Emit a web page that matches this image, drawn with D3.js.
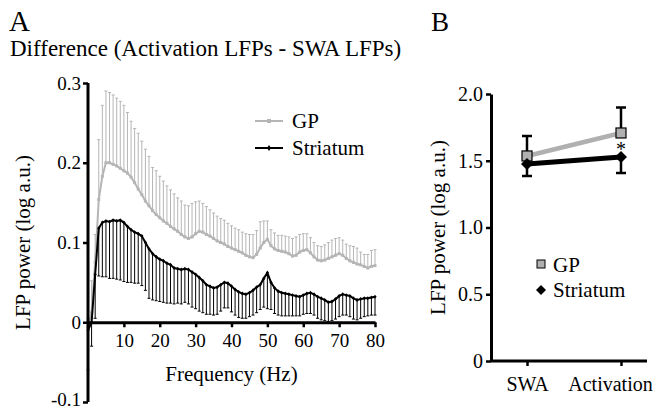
<!DOCTYPE html>
<html><head><meta charset="utf-8">
<script src="https://cdn.jsdelivr.net/npm/d3@7"></script>
<style>body{margin:0;background:#fff}svg{display:block}text{font-family:"Liberation Serif","Times New Roman",serif !important;fill:#000}</style>
</head><body><svg id="c" width="656" height="410"></svg>
<script>
// Panel A data (frequency 0..80 Hz, 1 Hz steps)
const freqs = d3.range(0, 81);
const gpMean = [-0.005,0.012,0.075,0.154,0.183,0.2,0.2,0.198,0.196,0.193,0.19,0.187,0.182,0.175,0.167,0.16,0.152,0.146,0.14,0.135,0.131,0.127,0.124,0.12,0.117,0.114,0.11,0.107,0.105,0.107,0.111,0.114,0.113,0.11,0.108,0.105,0.102,0.1,0.098,0.095,0.093,0.091,0.089,0.087,0.084,0.082,0.081,0.085,0.093,0.1,0.104,0.096,0.092,0.09,0.089,0.088,0.086,0.083,0.084,0.088,0.09,0.091,0.087,0.082,0.078,0.077,0.078,0.08,0.082,0.084,0.086,0.084,0.08,0.077,0.075,0.073,0.072,0.07,0.068,0.07,0.071];
const gpErr = [0.01,0.04,0.035,0.075,0.089,0.09,0.088,0.087,0.085,0.084,0.082,0.076,0.07,0.068,0.07,0.067,0.065,0.062,0.054,0.055,0.052,0.05,0.047,0.046,0.044,0.042,0.042,0.04,0.041,0.042,0.04,0.038,0.036,0.035,0.033,0.032,0.031,0.03,0.03,0.029,0.028,0.027,0.027,0.026,0.027,0.028,0.029,0.03,0.033,0.027,0.023,0.02,0.02,0.019,0.02,0.02,0.021,0.022,0.023,0.022,0.021,0.02,0.019,0.018,0.018,0.018,0.019,0.02,0.021,0.021,0.02,0.019,0.018,0.019,0.02,0.02,0.016,0.015,0.017,0.02,0.02];
const strMean = [-0.01,0.0,0.06,0.118,0.125,0.127,0.126,0.128,0.127,0.128,0.125,0.12,0.116,0.113,0.111,0.108,0.1,0.092,0.086,0.082,0.079,0.077,0.074,0.072,0.068,0.067,0.066,0.067,0.066,0.063,0.06,0.056,0.052,0.047,0.045,0.043,0.044,0.047,0.05,0.049,0.045,0.041,0.038,0.036,0.035,0.037,0.04,0.044,0.047,0.055,0.062,0.05,0.043,0.039,0.037,0.036,0.035,0.034,0.033,0.032,0.034,0.036,0.037,0.035,0.032,0.03,0.028,0.025,0.026,0.029,0.033,0.035,0.034,0.033,0.03,0.028,0.029,0.03,0.03,0.031,0.032];
const strErr = [0.05,0.03,0.055,0.06,0.068,0.07,0.071,0.073,0.073,0.075,0.074,0.07,0.066,0.064,0.062,0.062,0.06,0.062,0.058,0.055,0.053,0.052,0.05,0.048,0.045,0.043,0.043,0.042,0.043,0.044,0.043,0.042,0.04,0.037,0.035,0.034,0.034,0.033,0.032,0.031,0.032,0.032,0.032,0.031,0.03,0.03,0.031,0.032,0.031,0.036,0.045,0.034,0.032,0.03,0.029,0.028,0.027,0.026,0.025,0.024,0.024,0.025,0.026,0.026,0.027,0.027,0.026,0.024,0.024,0.025,0.026,0.026,0.025,0.026,0.026,0.025,0.024,0.023,0.022,0.022,0.023];
const xTicksA = [10,20,30,40,50,60,70,80];
const yTicksA = [-0.1,0,0.1,0.2,0.3];
const yTickLabelsA = ["-0.1","0","0.1","0.2","0.3"];

// Panel B data
const conditions = ["SWA","Activation"];
const gpB = [1.536,1.708];
const gpBErr = [0.15,0.19];
const strB = [1.476,1.528];
const strBErr = [0.09,0.12];
const yTicksB = [0,0.5,1.0,1.5,2.0];
const yTickLabelsB = ["0","0.5","1.0","1.5","2.0"];

const GRAY = "#b5b5b5";
const svg = d3.select("#c");

// ---------- Panel A ----------
const xA = d3.scaleLinear().domain([0,80]).range([88,375]);
const yA = d3.scaleLinear().domain([-0.1,0.3]).range([402,83]);

svg.append("text").attr("x",9).attr("y",31).attr("font-size",29).text("A");
svg.append("text").attr("x",10).attr("y",56).attr("font-size",23).text("Difference (Activation LFPs - SWA LFPs)");

const gA = svg.append("g");
const gpData = freqs.map((f,i)=>({f, m:gpMean[i], e:gpErr[i]}));
const stData = freqs.map((f,i)=>({f, m:strMean[i], e:strErr[i]}));

gA.selectAll(".gpe").data(gpData).join("path")
  .attr("d",d=>{const x=xA(d.f), y1=yA(d.m), y2=yA(d.m+d.e);return `M${x},${y1}V${y2}M${x-1.5},${y2}H${x+1.5}`;})
  .attr("stroke",GRAY).attr("stroke-width",1).attr("fill","none");
gA.append("path").datum(gpData)
  .attr("d",d3.line().x(d=>xA(d.f)).y(d=>yA(d.m)))
  .attr("stroke",GRAY).attr("stroke-width",2).attr("fill","none");
gA.selectAll(".gpm").data(gpData).join("rect")
  .attr("x",d=>xA(d.f)-1.5).attr("y",d=>yA(d.m)-1.5).attr("width",3).attr("height",3).attr("fill",GRAY);

gA.selectAll(".ste").data(stData).join("path")
  .attr("d",d=>{const x=xA(d.f), y1=yA(d.m), y2=yA(d.m-d.e);return `M${x},${y1}V${y2}M${x-1.5},${y2}H${x+1.5}`;})
  .attr("stroke","#000").attr("stroke-width",1).attr("fill","none");
gA.append("path").datum(stData)
  .attr("d",d3.line().x(d=>xA(d.f)).y(d=>yA(d.m)))
  .attr("stroke","#000").attr("stroke-width",2).attr("fill","none");
gA.selectAll(".stm").data(stData).join("path")
  .attr("d",d=>{const x=xA(d.f), y=yA(d.m);return `M${x},${y-2}L${x+1.6},${y}L${x},${y+2}L${x-1.6},${y}Z`;})
  .attr("fill","#000");

// axes A
const yAxA = svg.append("g").attr("transform",`translate(${xA(0)},0)`)
  .call(d3.axisLeft(yA).tickValues(yTicksA).tickFormat((d,i)=>yTickLabelsA[i]).tickSize(5).tickSizeOuter(0));
const xAxA = svg.append("g").attr("transform",`translate(0,${yA(0)})`)
  .call(d3.axisBottom(xA).tickValues(xTicksA).tickSize(5).tickSizeOuter(0));
[yAxA,xAxA].forEach(g=>{
  g.select(".domain").attr("stroke","#000").attr("stroke-width",3);
  g.selectAll(".tick line").attr("stroke","#000").attr("stroke-width",2.5);
  g.selectAll(".tick text").attr("font-size",19);
});
yAxA.select(".domain").attr("d",`M0,${yA(0.3)}V${yA(-0.1)}`);
yAxA.selectAll(".tick text").attr("x",-7);
yAxA.selectAll(".tick").filter(d=>d===-0.1).select("text").attr("dy","0.2em");
xAxA.selectAll(".tick text").attr("y",11);

svg.append("text").attr("x",xA(40)).attr("y",381).attr("text-anchor","middle").attr("font-size",21).text("Frequency (Hz)");
svg.append("text").attr("transform",`translate(30,${yA(0.1)}) rotate(-90)`).attr("text-anchor","middle").attr("font-size",21).text("LFP power (log a.u.)");

// legend A
const legA = [{name:"GP",c:GRAY,y:121,shape:"sq"},{name:"Striatum",c:"#000",y:148,shape:"dm"}];
legA.forEach(l=>{
  svg.append("line").attr("x1",255).attr("x2",283).attr("y1",l.y).attr("y2",l.y).attr("stroke",l.c).attr("stroke-width",2);
  if(l.shape==="sq") svg.append("rect").attr("x",267).attr("y",l.y-2).attr("width",4).attr("height",4).attr("fill",l.c);
  else svg.append("path").attr("d",`M269,${l.y-3}L271,${l.y}L269,${l.y+3}L267,${l.y}Z`).attr("fill",l.c);
  svg.append("text").attr("x",292).attr("y",l.y+7).attr("font-size",21).text(l.name);
});

// ---------- Panel B ----------
const xB = d3.scalePoint().domain(conditions).range([527,621]);
const yB = d3.scaleLinear().domain([0,2]).range([361,94]);

svg.append("text").attr("x",431).attr("y",31).attr("font-size",27).text("B");

const yAxB = svg.append("g").attr("transform",`translate(491,0)`)
  .call(d3.axisLeft(yB).tickValues(yTicksB).tickFormat((d,i)=>yTickLabelsB[i]).tickSize(5).tickSizeOuter(0));
const xAxB = svg.append("g").attr("transform",`translate(0,${yB(0)})`)
  .call(d3.axisBottom(xB).tickSize(5).tickSizeOuter(0));
[yAxB,xAxB].forEach(g=>{
  g.select(".domain").attr("stroke","#000").attr("stroke-width",3);
  g.selectAll(".tick line").attr("stroke","#000").attr("stroke-width",2.5);
  g.selectAll(".tick text").attr("font-size",20);
});
xAxB.select(".domain").attr("d","M491,0H647");
yAxB.selectAll(".tick text").attr("x",-8);
xAxB.selectAll(".tick text").attr("y",16);
xAxB.selectAll(".tick").filter(d=>d==="Activation").select("text").attr("dx",-11);
svg.append("text").attr("transform",`translate(445,${yB(1)}) rotate(-90)`).attr("text-anchor","middle").attr("font-size",21).text("LFP power (log a.u.)");

const gpBD = conditions.map((c,i)=>({c,m:gpB[i],e:gpBErr[i]}));
const stBD = conditions.map((c,i)=>({c,m:strB[i],e:strBErr[i]}));
svg.selectAll(".gbe").data(gpBD).join("path")
  .attr("d",d=>{const x=xB(d.c),y1=yB(d.m),y2=yB(d.m+d.e);return `M${x},${y1}V${y2}M${x-5},${y2}H${x+5}`;})
  .attr("stroke","#000").attr("stroke-width",2.5).attr("fill","none");
svg.selectAll(".sbe").data(stBD).join("path")
  .attr("d",d=>{const x=xB(d.c),y1=yB(d.m),y2=yB(d.m-d.e);return `M${x},${y1}V${y2}M${x-5},${y2}H${x+5}`;})
  .attr("stroke","#000").attr("stroke-width",2.5).attr("fill","none");
svg.append("path").datum(gpBD).attr("d",d3.line().x(d=>xB(d.c)).y(d=>yB(d.m)))
  .attr("stroke","#b0b0b0").attr("stroke-width",4.5).attr("fill","none");
svg.append("path").datum(stBD).attr("d",d3.line().x(d=>xB(d.c)).y(d=>yB(d.m)))
  .attr("stroke","#000").attr("stroke-width",5).attr("fill","none");
svg.selectAll(".gbm").data(gpBD).join("rect")
  .attr("x",d=>xB(d.c)-5).attr("y",d=>yB(d.m)-5).attr("width",10).attr("height",10)
  .attr("fill","#b0b0b0").attr("stroke","#000").attr("stroke-width",1.2);
svg.selectAll(".sbm").data(stBD).join("path")
  .attr("d",d=>{const x=xB(d.c),y=yB(d.m);return `M${x},${y-6}L${x+6},${y}L${x},${y+6}L${x-6},${y}Z`;})
  .attr("fill","#000");
svg.append("text").attr("x",xB("Activation")).attr("y",yB(1.708)+23).attr("text-anchor","middle").attr("font-size",20).text("*");

// legend B
svg.append("rect").attr("x",537).attr("y",260).attr("width",8).attr("height",8).attr("fill","#b0b0b0").attr("stroke","#000").attr("stroke-width",1);
svg.append("text").attr("x",553).attr("y",272).attr("font-size",21).text("GP");
svg.append("path").attr("d","M541,285L546,290L541,295L536,290Z").attr("fill","#000");
svg.append("text").attr("x",553).attr("y",297).attr("font-size",21).text("Striatum");
</script></body></html>
